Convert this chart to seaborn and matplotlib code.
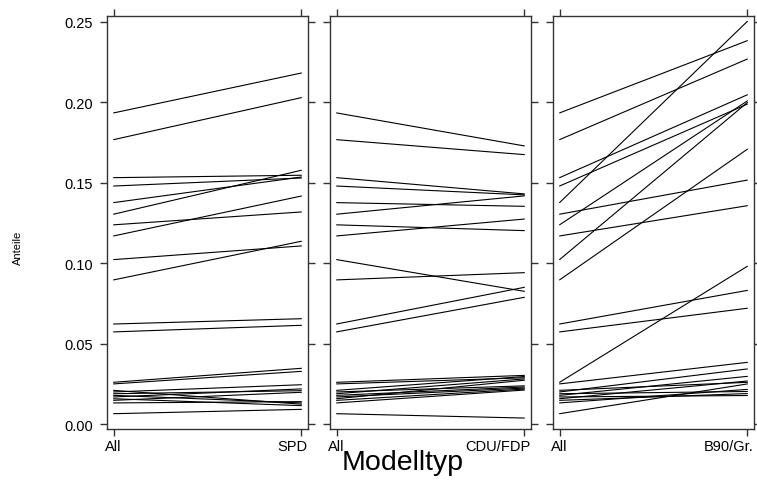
import numpy as np
import pandas as pd
import matplotlib
matplotlib.use('Agg')
import matplotlib.pyplot as plt
import matplotlib.transforms as mtransforms
import seaborn as sns

# Anteile je Modell (Spalte "All" ist in allen drei Panels gleich)
all_vals = [0.1935, 0.1769, 0.1533, 0.1481, 0.1378, 0.1306, 0.1240, 0.1171,
            0.1024, 0.0898, 0.0624, 0.0575, 0.0262, 0.0252,
            0.0212, 0.0202, 0.0191, 0.0181, 0.0171, 0.0160, 0.0150, 0.0134,
            0.0067]
spd_vals = [0.2183, 0.2030, 0.1548, 0.1531, 0.1537, 0.1579, 0.1320, 0.1419,
            0.1109, 0.1138, 0.0657, 0.0616, 0.0349, 0.0330,
            0.0126, 0.0247, 0.0210, 0.0134, 0.0221, 0.0117, 0.0200, 0.0142,
            0.0094]
cdu_vals = [0.1730, 0.1676, 0.1432, 0.1426, 0.1355, 0.1420, 0.1204, 0.1276,
            0.0827, 0.0943, 0.0852, 0.0790, 0.0305, 0.0290,
            0.0298, 0.0240, 0.0283, 0.0233, 0.0226, 0.0275, 0.0220, 0.0214,
            0.0040]
gruene_vals = [0.2384, 0.2270, 0.2048, 0.1990, 0.2504, 0.1518, 0.2010, 0.1359,
               0.2000, 0.1710, 0.0833, 0.0722, 0.0983, 0.0386,
               0.0262, 0.0345, 0.0205, 0.0299, 0.0180, 0.0270, 0.0192, 0.0218,
               0.0252]
panel_names = ['SPD', 'CDU/FDP', 'B90/Gr.']
panel_vals = [spd_vals, cdu_vals, gruene_vals]
y_ticks = [0.00, 0.05, 0.10, 0.15, 0.20, 0.25]

# lange Tabelle bauen
rows = []
for name, vals in zip(panel_names, panel_vals):
    for i, (a, b) in enumerate(zip(all_vals, vals)):
        rows.append({'panel': name, 'id': i, 'x': 0, 'Anteil': a})
        rows.append({'panel': name, 'id': i, 'x': 1, 'Anteil': b})
df = pd.DataFrame(rows)

sns.set_style('white')
plt.rcParams['font.family'] = ['Liberation Sans', 'DejaVu Sans']
plt.rcParams['text.color'] = 'black'
plt.rcParams['xtick.labelcolor'] = 'black'
plt.rcParams['ytick.labelcolor'] = 'black'

fig = plt.figure(figsize=(7.57, 4.81), dpi=100)
frame_col = '#333333'
lefts = [107, 330, 553]

for k, name in enumerate(panel_names):
    ax = fig.add_axes([lefts[k] / 757, 51 / 481, 201 / 757, 413 / 481])
    sns.lineplot(data=df[df['panel'] == name], x='x', y='Anteil', units='id',
                 estimator=None, color='black', lw=0.8, ax=ax, legend=False)
    ax.set_xlim(-0.035, 1.035)
    ax.set_ylim(-0.0028, 0.2537)
    ax.set_xticks([0, 1])
    ax.set_xticklabels(['All', name])
    ax.set_yticks(y_ticks)
    ax.set_xlabel('')
    ax.set_ylabel('')
    for s in ax.spines.values():
        s.set_color(frame_col)
        s.set_linewidth(1.0)
    ax.tick_params(axis='both', direction='out', length=5, width=1.0,
                   color=frame_col, labelcolor='black', labelsize=10.5, pad=2,
                   top=True, right=True, left=True, bottom=True,
                   labeltop=False, labelright=False, labelleft=(k == 0))
    ax.tick_params(axis='y', pad=5)
    # rechtes Label an den Panelrand schieben
    lab = ax.get_xticklabels()[1]
    lab.set_ha('right')
    lab.set_transform(lab.get_transform() +
                      mtransforms.ScaledTranslation(6 / 100, 0, fig.dpi_scale_trans))
    ax.grid(False)

fig.text(0.532, 0.038, 'Modelltyp', fontsize=20.5, ha='center', va='center')
fig.text(0.024, 0.484, 'Anteile', fontsize=8, rotation=90, ha='center', va='center')

fig.savefig('out.png', dpi=100)
